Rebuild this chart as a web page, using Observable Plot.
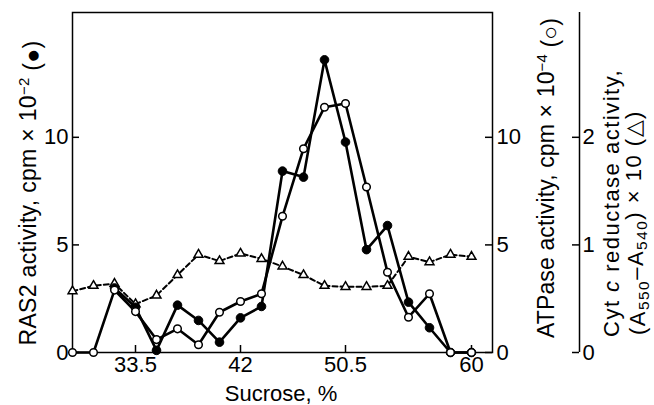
<!DOCTYPE html>
<html>
<head>
<meta charset="utf-8">
<script src="https://cdn.jsdelivr.net/npm/d3@7"></script>
<script src="https://cdn.jsdelivr.net/npm/@observablehq/plot@0.6"></script>
<style>
  html, body { margin: 0; padding: 0; background: white; }
</style>
</head>
<body>
<div id="chart"></div>
<script>
// Fraction number along the gradient
const fractions = [1, 2, 3, 4, 5, 6, 7, 8, 9, 10, 11, 12, 13, 14, 15, 16, 17, 18, 19, 20];
// RAS2 activity, cpm x 10^-2 (filled circles)
const ras2 = [null, null, 3.0, 2.1, 0.1, 2.2, 1.49, 0.48, 1.61, 2.14, 8.43, 8.15, 13.6, 9.78, 4.78, 5.9, 2.34, 1.15, 0.0, 0.0];
// ATPase activity, cpm x 10^-4 (open circles)
const atpase = [0, 0, 2.9, 1.9, 0.6, 1.1, 0.36, 1.87, 2.37, 2.73, 6.33, 9.47, 11.4, 11.57, 7.69, 3.73, 1.64, 2.73, 0, 0];
// Cyt c reductase activity (A550-A540) x 10 (open triangles)
const cytc = [0.57, 0.62, 0.64, 0.45, 0.53, 0.72, 0.91, 0.85, 0.92, 0.87, 0.80, 0.72, 0.62, 0.61, 0.61, 0.62, 0.89, 0.84, 0.91, 0.89];

// x tick positions (fractions) and their sucrose labels
const xTickFractions = [4, 9, 14, 20];
const xTickLabels = ["33.5", "42", "50.5", "60"];
// y ticks (shared pixel scale for RAS2 and ATPase)
const yTicks = [0, 5, 10];
// Cyt c axis: 1 unit of cyt c = 5 units of the shared scale
const cytFactor = 5;

const rows = fractions.map((f, i) => ({f, ras: ras2[i], atp: atpase[i], cyt: cytc[i]}));
const rasRows = rows.filter(d => d.ras != null);

const W = 654, H = 405;
const mL = 72, mR = 162, mT = 12, mB = 53;
const plotW = W - mL - mR, plotH = H - mT - mB;
const cytOffset = 87;
const tickLen = 7;
const font = "Liberation Sans, Arial, Helvetica, sans-serif";
const fs = 22;

const chart = Plot.plot({
  width: W, height: H,
  marginLeft: mL, marginRight: mR, marginTop: mT, marginBottom: mB,
  style: {fontFamily: font, fontSize: "22px", background: "white", color: "black", overflow: "visible"},
  x: {domain: [1, 21], axis: null},
  y: {domain: [0, 15.8], axis: null},
  marks: [
    Plot.frame({stroke: "black", strokeWidth: 1.5}),
    Plot.tickX(xTickFractions, {x: d => d, insetTop: plotH - tickLen, strokeWidth: 1.5}),
    Plot.tickY(yTicks, {y: d => d, insetRight: plotW - tickLen, strokeWidth: 1.5}),
    Plot.tickY(yTicks, {y: d => d, insetLeft: plotW - tickLen, strokeWidth: 1.5}),
    Plot.tickY(yTicks, {y: d => d, insetLeft: plotW - tickLen, dx: cytOffset, strokeWidth: 1.5}),
    Plot.ruleX([21], {dx: cytOffset, strokeWidth: 1.5}),
    Plot.axisX({ticks: xTickFractions, tickFormat: d => xTickLabels[xTickFractions.indexOf(d)], tickSize: 0, tickPadding: 4, label: null, fontSize: fs}),
    Plot.axisY({anchor: "left", ticks: yTicks, tickSize: 0, tickPadding: 4, label: null, fontSize: fs}),
    Plot.axisY({anchor: "right", ticks: yTicks, tickSize: 0, tickPadding: 4, label: null, fontSize: fs}),
    Plot.axisY({anchor: "right", ticks: yTicks, tickSize: 0, tickPadding: 3, dx: cytOffset, tickFormat: d => d / cytFactor, label: null, fontSize: fs}),
    Plot.line(rows, {x: "f", y: d => d.cyt * cytFactor, stroke: "black", strokeWidth: 2, strokeDasharray: "5,3"}),
    Plot.line(rasRows, {x: "f", y: "ras", stroke: "black", strokeWidth: 2.6}),
    Plot.line(rows, {x: "f", y: "atp", stroke: "black", strokeWidth: 2.6}),
    Plot.dot(rows, {x: "f", y: d => d.cyt * cytFactor, symbol: "triangle", r: 3.3, fill: "white", stroke: "black", strokeWidth: 1.5}),
    Plot.dot(rasRows, {x: "f", y: "ras", r: 4.3, fill: "black", stroke: "black", strokeWidth: 1}),
    Plot.dot(rows, {x: "f", y: "atp", r: 3.8, fill: "white", stroke: "black", strokeWidth: 1.5})
  ]
});

document.getElementById("chart").appendChild(chart);

// Axis titles with super/subscripts
const svg = d3.select(chart);

function rotTitle(x, y, anchor, len, size, parts) {
  const t = svg.append("text")
    .attr("transform", `translate(${x},${y}) rotate(-90)`)
    .attr("text-anchor", anchor)
    .attr("dy", "0.35em")
    .attr("font-family", font)
    .attr("font-size", size)
    .attr("fill", "black");
  let n = 0;
  for (const p of parts) {
    const s = t.append("tspan").text(p.t);
    n += p.t.length;
    if (p.sup) s.attr("dy", "-0.45em").attr("font-size", size * 0.65);
    if (p.supEnd) s.attr("dy", "0.45em");
    if (p.sub) s.attr("dy", "0.25em").attr("font-size", size * 0.7);
    if (p.subEnd) s.attr("dy", "-0.25em");
    if (p.it) s.attr("font-style", "italic");
  }
  const measured = t.node().getComputedTextLength();
  if (len && measured > 0) {
    const ls = Math.max(-0.5, Math.min(1.5, (len - measured) / n));
    t.attr("letter-spacing", ls.toFixed(2) + "px");
  }
  return t;
}

rotTitle(28, 193, "middle", 305, 23, [
  {t: "RAS2 activity, cpm × 10"}, {t: "−2", sup: true}, {t: " (●)", supEnd: true}
]);
rotTitle(546, 178, "middle", 320, 23, [
  {t: "ATPase activity, cpm × 10"}, {t: "−4", sup: true}, {t: " (○)", supEnd: true}
]);
rotTitle(611, 337, "start", 272, 22, [
  {t: "Cyt "}, {t: "c", it: true}, {t: " reductase activity,"}
]);
rotTitle(637, 335, "start", 250, 22, [
  {t: "(A"}, {t: "550", sub: true}, {t: "–A", subEnd: true}, {t: "540", sub: true}, {t: ") × 10 (△)", subEnd: true}
]);

svg.append("text")
  .attr("x", 281).attr("y", 401)
  .attr("text-anchor", "middle")
  .attr("font-family", font)
  .attr("font-size", 22)
  .attr("fill", "black")
  .text("Sucrose, %");
</script>
</body>
</html>
